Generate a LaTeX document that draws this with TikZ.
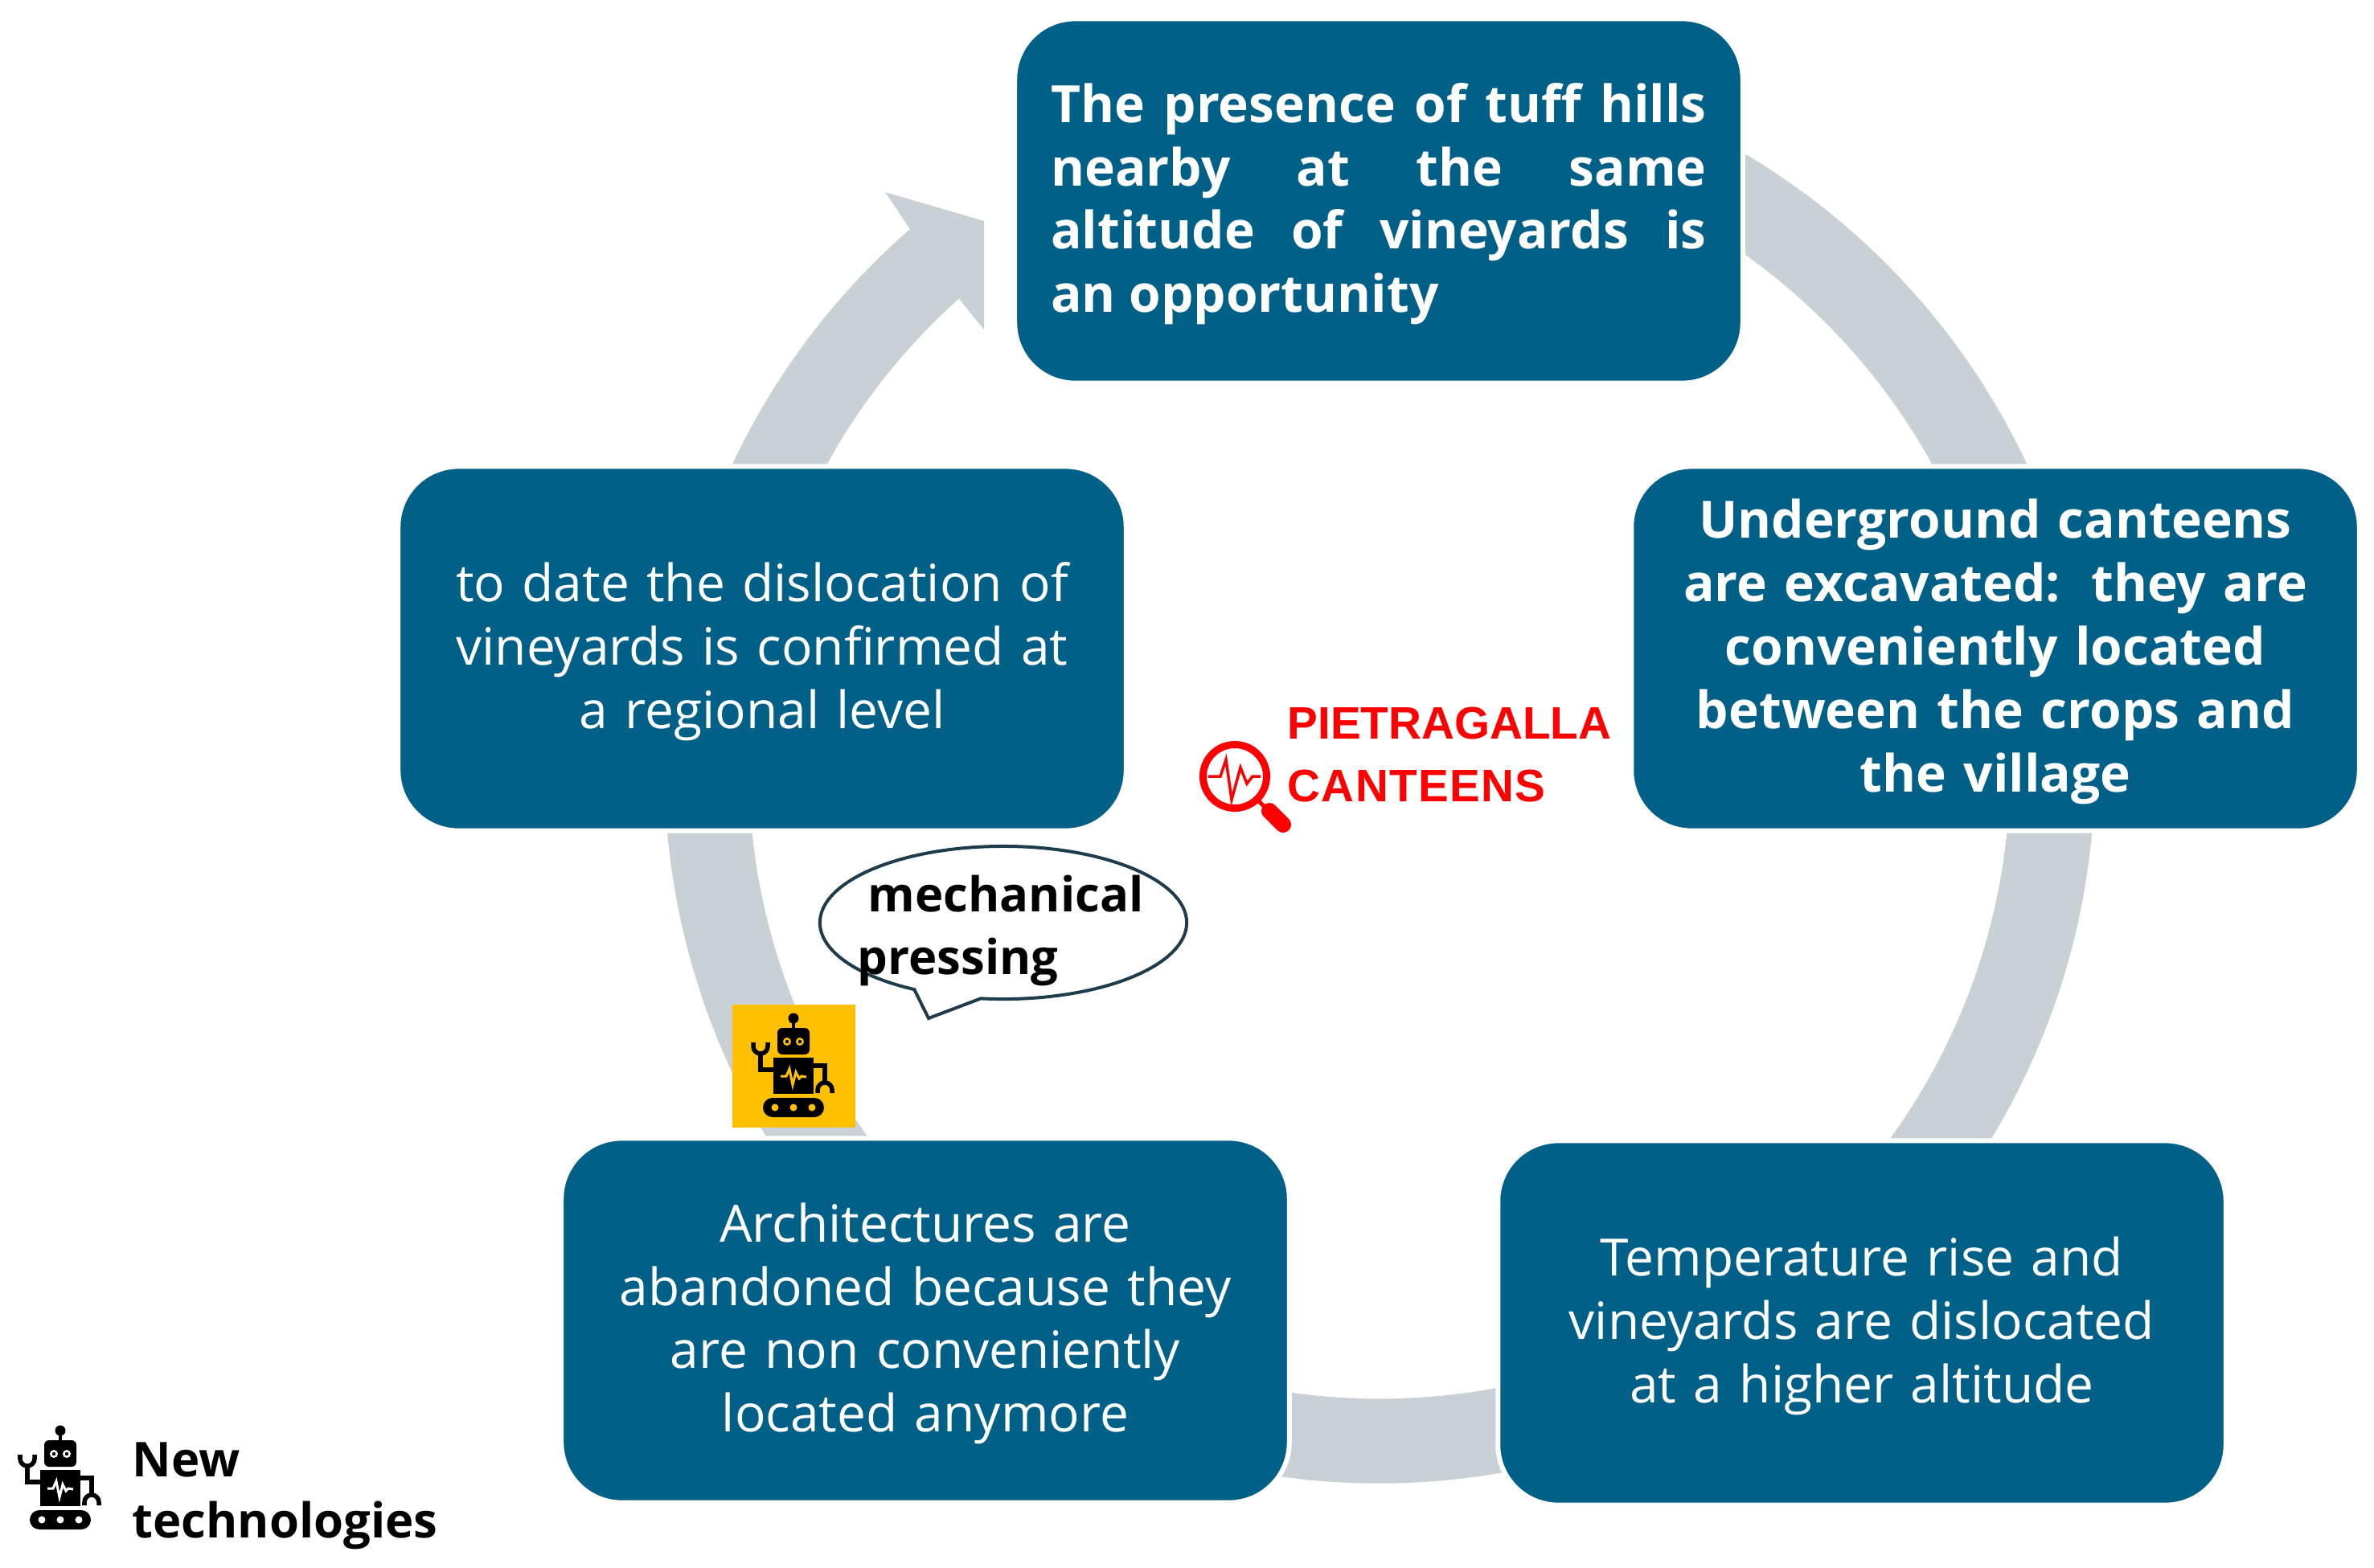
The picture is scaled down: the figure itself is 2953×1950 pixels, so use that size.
\documentclass[tikz,border=0pt]{standalone}
\usepackage{fontspec}
\setmainfont{Open Sans}
\newfontfamily\arialfont{Liberation Sans}
\usetikzlibrary{shapes}
\usetikzlibrary{shapes.callouts}
\usetikzlibrary{calc}
\definecolor{boxblue}{RGB}{0,96,135}
\definecolor{ringgrey}{RGB}{201,208,214}
\definecolor{robotyellow}{RGB}{255,192,0}
\definecolor{bubbleline}{RGB}{30,60,75}
\tikzset{
  stepbox/.style={fill=boxblue,draw=white,line width=.06cm,rounded corners=.75cm,
    minimum width=9.05cm,minimum height=4.53cm,inner sep=0pt,text=white,align=center,
    text width=8.8cm,font=\fontsize{18.2}{22.4}\selectfont,
    execute at begin node={\rule{0pt}{16pt}}},
  boldbox/.style={stepbox,font=\fontsize{18.2}{22.4}\selectfont\bfseries},
  blacktext/.style={anchor=base west,font=\fontsize{17}{22.4}\selectfont\bfseries,inner sep=0pt},
  redtext/.style={anchor=base west,text=red,font=\arialfont\fontsize{16.1}{20}\selectfont\bfseries,inner sep=0pt},
  pics/robot/.style={code={
    \fill[rounded corners=.12cm] (-38,-12) rectangle (38,12);
    \fill[#1] (-23,0) circle(.045cm);
    \fill[#1] (0,0) circle(.045cm);
    \fill[#1] (23,0) circle(.045cm);
    \fill (-25,17) rectangle (25,62);
    \draw[#1,line width=.03cm] (-16,39)--(-9,39)--(-5,48)--(-1,28)--(3,44)--(7,36)--(10,39)--(16,38);
    \fill[rounded corners=.06cm] (-20,66) rectangle (20,99);
    \fill[#1] (-8,82) circle(.05cm);
    \fill[#1] (8,82) circle(.05cm);
    \fill (-8,82) circle(.022cm);
    \fill (8,82) circle(.022cm);
    \draw[line width=.045cm] (0,99)--(0,108);
    \fill (0,111) circle(.065cm);
    \draw[line width=.055cm] (-25,47)--(-41,47)--(-41,67);
    \draw[line width=.055cm] (-50,81)--(-50,76) arc[start angle=180,end angle=360,radius=.09cm]--(-32,81);
    \draw[line width=.055cm] (25,52)--(39,52)--(39,30);
    \draw[line width=.055cm] (30,18)--(30,22) arc[start angle=180,end angle=0,radius=.09cm]--(48,18);
  }}
}
\begin{document}
\begin{tikzpicture}[x=.01cm,y=.01cm]
\useasboundingbox (0,0) rectangle (2953,-1950);
\fill[white] (0,0) rectangle (2953,-1950);
\coordinate (ringc) at (1716,-956);
\fill[ringgrey] ($(ringc)+(100:8.89cm)$) arc[start angle=100,end angle=-228.96,radius=8.89cm]
  --(1101,-239)--(1224,-275)--(1224,-410)--($(ringc)+(131.85:7.84cm)$)
  arc[start angle=-228.15,end angle=100,radius=7.84cm]--cycle;
\node[boldbox,align=justify,text width=8.15cm] (hills) at (1715,-250) {The presence of tuff hills\linebreak nearby at the same\linebreak altitude of vineyards is\linebreak an opportunity};
\node[boldbox] (canteens) at (2482,-807) {Underground canteens\\are excavated:\hspace{.1em} they are\\conveniently located\\between the crops and\\the village};
\node[stepbox] (rise) at (2316,-1646) {Temperature rise and\\vineyards are dislocated\\at a higher altitude};
\node[stepbox] (abandoned) at (1151,-1643) {Architectures are\\abandoned because they\\are non conveniently\\located anymore};
\node[stepbox] (dislocation) at (948,-807) {to date the dislocation of\\vineyards is confirmed at\\a regional level};
\fill[robotyellow] (911,-1250) rectangle (1064,-1403);
\pic (yellowrobot) at (987,-1378) {robot=robotyellow};
\pic (legendrobot) at (75,-1891) {robot=white};
\node[ellipse callout,draw=bubbleline,fill=white,line width=.04cm,inner sep=0pt,
  minimum width=4.56cm,minimum height=1.9cm,callout pointer arc=22,
  callout absolute pointer={(1155,-1267)}] (bubble) at (1248,-1148) {};
\node[blacktext] (mechanical) at (1079,-1134) {mechanical};
\node[blacktext] (pressing) at (1066,-1212) {pressing};
\node[redtext] (pietragalla) at (1601,-919) {PIETRAGALLA};
\node[redtext] (cantinas) at (1601,-997) {\addfontfeature{LetterSpace=2.4}CANTEENS};
\draw[red,line width=.09cm] (1536,-966) circle(.395cm);
\draw[red,line width=.05cm] (1565,-996)--(1575,-1006);
\draw[red,line width=.2cm,line cap=round] (1579,-1009)--(1596,-1026);
\draw[red,line width=.035cm] (1503,-966)--(1518,-966)--(1525,-945)--(1532,-995)--(1543,-955)--(1551,-975)--(1558,-966)--(1568,-966);
\node[blacktext] (newtext) at (164,-1837) {New};
\node[blacktext] (technologies) at (164,-1913) {technologies};
\end{tikzpicture}
\end{document}
